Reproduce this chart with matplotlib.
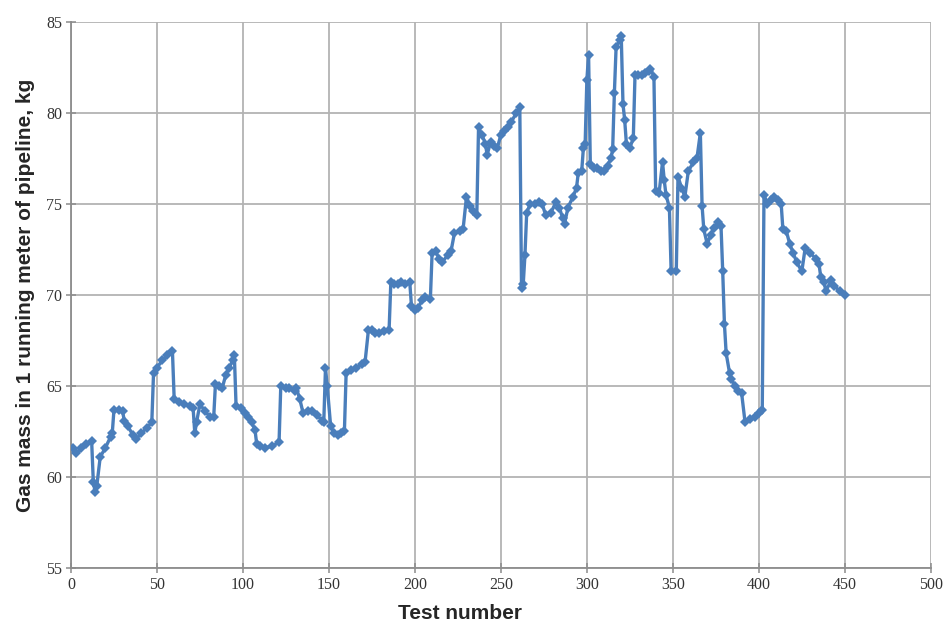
import matplotlib
matplotlib.use("Agg")
import matplotlib.pyplot as plt

# ==================== data ====================
tests = [
    1, 3, 6, 9, 12, 13, 14, 15, 17, 20, 23, 24, 25, 28, 30, 31, 33, 36, 38, 41,
    44, 47, 48, 50, 53, 56, 59, 60, 63, 66, 69, 71, 72, 73, 75, 78, 81, 83, 84, 86,
    88, 90, 92, 94, 95, 96, 99, 101, 103, 105, 107, 108, 110, 113, 117, 121, 122, 125, 127, 130,
    131, 133, 135, 138, 140, 143, 146, 147, 148, 149, 151, 153, 155, 157, 159, 160, 163, 166, 169, 171,
    173, 175, 177, 179, 182, 185, 186, 188, 190, 192, 194, 197, 198, 200, 202, 204, 206, 209, 210, 212,
    214, 216, 219, 221, 223, 226, 228, 230, 232, 234, 236, 237, 239, 241, 242, 244, 246, 248, 250, 252,
    254, 256, 259, 261, 262, 263, 264, 265, 267, 270, 272, 274, 276, 279, 282, 284, 286, 287, 289, 292,
    294, 295, 297, 298, 299, 300, 301, 302, 304, 306, 308, 310, 312, 314, 315, 316, 317, 319, 320, 321,
    322, 323, 325, 327, 328, 330, 332, 334, 336, 337, 339, 340, 342, 344, 345, 346, 348, 349, 352, 353,
    355, 357, 359, 362, 364, 366, 367, 368, 370, 372, 374, 376, 378, 379, 380, 381, 383, 384, 386, 388,
    390, 392, 395, 398, 400, 402, 403, 405, 407, 409, 411, 413, 414, 416, 418, 420, 422, 425, 427, 430,
    433, 435, 436, 438, 439, 442, 444, 447, 450,
]
gas_mass = [
    61.6, 61.3, 61.6, 61.8, 62.0, 59.7, 59.2, 59.5, 61.1, 61.6, 62.2, 62.4, 63.7, 63.7, 63.6, 63.1, 62.8, 62.3, 62.1, 62.4,
    62.7, 63.0, 65.7, 66.0, 66.4, 66.7, 66.9, 64.3, 64.1, 64.0, 63.9, 63.8, 62.4, 63.0, 64.0, 63.6, 63.3, 63.3, 65.1, 65.0,
    64.9, 65.6, 66.0, 66.4, 66.7, 63.9, 63.8, 63.5, 63.3, 63.0, 62.6, 61.8, 61.7, 61.6, 61.7, 61.9, 65.0, 64.9, 64.9, 64.7,
    64.9, 64.3, 63.5, 63.6, 63.6, 63.4, 63.1, 63.0, 66.0, 65.0, 62.8, 62.4, 62.3, 62.4, 62.5, 65.7, 65.9, 66.0, 66.2, 66.3,
    68.1, 68.1, 67.9, 67.9, 68.0, 68.1, 70.7, 70.6, 70.6, 70.7, 70.6, 70.7, 69.4, 69.2, 69.3, 69.7, 69.9, 69.8, 72.3, 72.4,
    72.0, 71.8, 72.2, 72.4, 73.4, 73.5, 73.6, 75.4, 74.9, 74.6, 74.4, 79.2, 78.8, 78.3, 77.7, 78.4, 78.2, 78.1, 78.8, 79.0,
    79.2, 79.5, 80.0, 80.3, 70.4, 70.6, 72.2, 74.5, 75.0, 75.0, 75.1, 75.0, 74.4, 74.5, 75.1, 74.8, 74.2, 73.9, 74.8, 75.4,
    75.9, 76.7, 76.8, 78.1, 78.3, 81.8, 83.2, 77.2, 77.0, 77.0, 76.8, 76.8, 77.1, 77.5, 78.0, 81.1, 83.6, 84.0, 84.2, 80.5,
    79.6, 78.3, 78.1, 78.6, 82.1, 82.1, 82.1, 82.2, 82.3, 82.4, 82.0, 75.7, 75.6, 77.3, 76.3, 75.5, 74.8, 71.3, 71.3, 76.5,
    75.9, 75.4, 76.8, 77.3, 77.5, 78.9, 74.9, 73.6, 72.8, 73.3, 73.7, 74.0, 73.8, 71.3, 68.4, 66.8, 65.7, 65.4, 65.0, 64.7,
    64.6, 63.0, 63.2, 63.3, 63.5, 63.7, 75.5, 75.0, 75.2, 75.4, 75.2, 75.0, 73.6, 73.5, 72.8, 72.3, 71.8, 71.3, 72.6, 72.3,
    72.0, 71.7, 71.0, 70.7, 70.2, 70.8, 70.5, 70.2, 70.0,
]

x_ticks = list(range(0, 501, 50))
y_ticks = list(range(55, 86, 5))

# ==================== figure ====================
fig = plt.figure(figsize=(9.44, 6.26), dpi=100)
ax = fig.add_axes([0.0752, 0.0927, 0.9108, 0.8723])

ax.plot(tests, gas_mass, color="#4A7EBB", linewidth=2.4,
        marker="D", markersize=5.5, markeredgewidth=0, zorder=3)

ax.set_xlim(0, 500)
ax.set_ylim(55, 85)
ax.set_xticks(x_ticks)
ax.set_yticks(y_ticks)

# excel style grid
ax.grid(True, color="#B3B3B3", linewidth=1.3)
ax.set_axisbelow(True)
for side in ["top", "right"]:
    ax.spines[side].set_visible(False)
for side in ["left", "bottom"]:
    ax.spines[side].set_color("#8C8C8C")
    ax.spines[side].set_linewidth(1.3)

ax.tick_params(direction="inout", length=7, width=1.1, color="#8C8C8C",
               labelsize=11.5, labelcolor="#333333", pad=3)
for lab in ax.get_xticklabels() + ax.get_yticklabels():
    lab.set_family("Liberation Serif")

ax.set_xlabel("Test number", fontsize=15, fontweight="bold",
              family="Liberation Sans", color="#262626", labelpad=8)
ax.xaxis.label.set_x(0.452)  # label sits a bit left of centre in the original
ax.set_ylabel("Gas mass in 1 running meter of pipeline, kg", fontsize=15,
              fontweight="bold", family="Liberation Sans", color="#262626", labelpad=8)

fig.savefig("out.png", dpi=100)
